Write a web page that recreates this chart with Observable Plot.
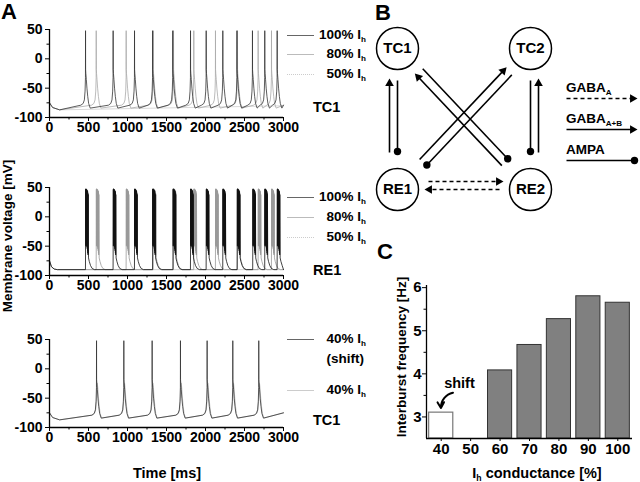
<!DOCTYPE html>
<html><head><meta charset="utf-8">
<script src="https://cdn.jsdelivr.net/npm/d3@7"></script>
<script src="https://cdn.jsdelivr.net/npm/@observablehq/plot@0.6"></script>
<style>
body{margin:0;background:#fff;}
#fig{position:relative;width:640px;height:482px;overflow:hidden;font-family:"Liberation Sans",Arial,Helvetica,sans-serif;font-weight:bold;color:#000;background:#fff;}
.abs{position:absolute;}
.lbl{position:absolute;white-space:nowrap;line-height:1;}
.lbl sub{font-size:0.6em;vertical-align:-0.35em;line-height:0;}
.sw{position:absolute;height:0;width:27px;}
</style></head><body><div id="fig"></div>
<script>
// ---------------- DATA ----------------
// Panel A: time axis / voltage axis
const timeTicks = [0, 500, 1000, 1500, 2000, 2500, 3000];
const timeMinor = [250, 750, 1250, 1750, 2250, 2750];
const voltTicks = [-100, -50, 0, 50];
const voltMinor = [-75, -25, 25];

// spike / burst times (ms)
const tc100Spikes = [462, 816, 1090, 1322, 1580, 1808, 2009, 2222, 2403, 2602, 2760, 2919];
const tc80Spikes  = [599, 983, 1330, 1590, 1850, 2128, 2410, 2675, 2846];
const tc50Spikes  = [];
const re100Bursts = [462, 816, 1090, 1322, 1583, 1808, 2009, 2222, 2406, 2606, 2760, 2919];
const re80Bursts  = [599, 983, 1330, 1590, 1850, 2128, 2410, 2675, 2846];
const re50Bursts  = [];
const tcShiftSpikes = [603, 953, 1316, 1679, 2021, 2350, 2683];
const tc40Humps     = [607, 957, 1320, 1683, 2025, 2354, 2687];

// waveform shapes (ms offset, mV)
const tcSpikeDt = [-60, -30, -15, -6, -1, 0, 1, 4, 10, 18, 28, 40, 60];
const tcSpikeV  = [-79, -76, -70, -55, -32, 48, -18, -25, -35, -50, -64, -76, -84];
const tcHumpDt  = [-60, -30, -15, -6, 0, 5, 12, 20, 30, 42, 60];
const tcHumpV   = [-79, -76, -70, -56, -35, -24, -32, -48, -63, -76, -84];
const reBurstDt = [-1, 0, 1.6, 3.2, 4.8, 6.4, 8, 9.6, 11.2, 12.8, 14.4, 16, 17.6, 19.2, 20.8, 22.4, 24, 25.6, 27.2, 28.8, 30.4, 32, 34, 38, 48, 64, 85, 115];
const reBurstV  = [-90, -60, 47, -50, 48, -48, 47, -46, 47, -48, 46, -50, 46, -52, 45, -55, 44, -58, 43, -62, 40, -65, 38, -70, -76, -83, -88, -90];
const tcStartT = [0, 40, 130];
const tcStartV = [-75, -83, -87];
const reStartT = [0, 25, 60, 100];
const reStartV = [-75, -85, -89, -90];

// legend texts
const legendTop = ["100% I<sub>h</sub>", "80% I<sub>h</sub>", "50% I<sub>h</sub>"];
const legendBottom = ["40% I<sub>h</sub>", "(shift)", "40% I<sub>h</sub>"];
const cellNames = ["TC1", "RE1", "TC1"];

// Panel B network
const nodeName = ["TC1", "TC2", "RE1", "RE2"];
const nodeX = [57, 190, 57, 190];
const nodeY = [48, 48, 189, 189];
const edgeFrom = ["RE1", "TC1", "RE2", "TC2", "RE1", "TC2", "RE2", "TC1", "RE1", "RE2"];
const edgeTo   = ["TC1", "RE1", "TC2", "RE2", "TC2", "RE1", "TC1", "RE2", "RE2", "RE1"];
const edgeType = ["GABA_A+B", "AMPA", "GABA_A+B", "AMPA", "GABA_A+B", "AMPA", "GABA_A+B", "AMPA", "GABA_A", "GABA_A"];
const edgeSide = [8, 0, -8, 0, 4.5, 4.5, 4.5, 4.5, 8, 0];
const synTypes = ["GABA_A", "GABA_A+B", "AMPA"];
const synLabels = ["GABA<sub>A</sub>", "GABA<sub>A+B</sub>", "AMPA"];

// Panel C bars
const conductance = [40, 50, 60, 70, 80, 90, 100];
const interburstHz = [3.1, null, 4.08, 4.67, 5.27, 5.8, 5.65];
const isShift = [true, false, false, false, false, false, false];
const freqTicks = [3, 4, 5, 6];

// ---------------- RENDER ----------------
const FONT = '"Liberation Sans", Arial, Helvetica, sans-serif';
const fig = document.getElementById("fig");
function place(node, left, top) {
  const d = document.createElement("div");
  d.className = "abs"; d.style.left = left + "px"; d.style.top = top + "px";
  d.appendChild(node); fig.appendChild(d);
}
function label(html, x, y, fs, align = "left", rot = false) {
  const d = document.createElement("div");
  d.className = "lbl"; d.innerHTML = html; d.style.fontSize = fs + "px";
  d.style.left = x + "px";
  if (rot) { d.style.top = y + "px"; d.style.transform = "translate(-50%,-50%) rotate(-90deg)"; }
  else {
    d.style.top = (y - fs / 2) + "px";
    d.style.transform = `translate(${align === "center" ? "-50%" : align === "right" ? "-100%" : "0"},0)`;
  }
  fig.appendChild(d);
}
function swatch(x, y, color, style = "solid") {
  const d = document.createElement("div");
  d.className = "sw"; d.style.left = x + "px"; d.style.top = y + "px";
  d.style.borderTop = `1px ${style} ${color}`; fig.appendChild(d);
}
function buildTrace(times, dt, v, startT, startV, endV) {
  const pts = startT.map((t, i) => ({t, v: startV[i]}));
  for (const s of times) dt.forEach((d, i) => pts.push({t: s + d, v: v[i]}));
  const kept = pts.filter(p => p.t < 3000).sort((a, b) => a.t - b.t);
  kept.push({t: 3000, v: endV});
  return kept;
}
const baseStyle = {fontFamily: FONT, fontWeight: "bold", color: "#000", background: "none", overflow: "visible"};
const axFont = {fontSize: 14, fontWeight: "bold"};

function tracePlot(series) {
  return Plot.plot({
    width: 290, height: 140, marginLeft: 49, marginRight: 7, marginTop: 29, marginBottom: 23,
    x: {domain: [0, 3000], label: null}, y: {domain: [-100, 50], label: null},
    style: {...baseStyle, fontSize: "14px"},
    marks: [
      ...series.map(s => Plot.line(s.pts, {x: "t", y: "v", stroke: s.color, strokeWidth: 0.8})),
      Plot.ruleX([0], {stroke: "#000", strokeWidth: 1.3}),
      Plot.ruleY([-100], {stroke: "#000", strokeWidth: 1.3}),
      Plot.axisY({ticks: voltTicks, tickSize: 4, tickPadding: 3, tickFormat: d => String(d), label: null, ...axFont}),
      Plot.axisY({ticks: voltMinor, tickSize: 2.5, tickFormat: () => "", label: null}),
      Plot.axisX({ticks: timeTicks, tickSize: 4, tickPadding: 1, tickFormat: d => String(d), label: null, ...axFont}),
      Plot.axisX({ticks: timeMinor, tickSize: 2.5, tickFormat: () => "", label: null})
    ]
  });
}

// panel A traces
place(tracePlot([
  {pts: buildTrace(tc50Spikes, tcSpikeDt, tcSpikeV, tcStartT, tcStartV, -80), color: "#cfcfcf"},
  {pts: buildTrace(tc80Spikes, tcSpikeDt, tcSpikeV, tcStartT, tcStartV, -79), color: "#aaaaaa"},
  {pts: buildTrace(tc100Spikes, tcSpikeDt, tcSpikeV, tcStartT, tcStartV, -79), color: "#333333"}
]), 0, 0);
place(tracePlot([
  {pts: buildTrace(re50Bursts, reBurstDt, reBurstV, reStartT, reStartV, -90), color: "#c8c8c8"},
  {pts: buildTrace(re80Bursts, reBurstDt, reBurstV, reStartT, reStartV, -90), color: "#999999"},
  {pts: buildTrace(re100Bursts, reBurstDt, reBurstV, reStartT, reStartV, -90), color: "#111111"}
]), 0, 158);
place(tracePlot([
  {pts: buildTrace(tc40Humps, tcHumpDt, tcHumpV, tcStartT, tcStartV, -75), color: "#b5b5b5"},
  {pts: buildTrace(tcShiftSpikes, tcSpikeDt, tcSpikeV, tcStartT, tcStartV, -75), color: "#333333"}
]), 0, 310);

// panel A legends
const swColors = ["#666", "#bbb", "#ccc"], swStyles = ["solid", "solid", "dotted"];
[35, 54, 74].forEach((y, i) => { swatch(287, y, swColors[i], swStyles[i]); label(legendTop[i], 366, y, 13.5, "right"); });
[197, 217, 237].forEach((y, i) => { swatch(287, y, swColors[i], swStyles[i]); label(legendTop[i], 366, y, 13.5, "right"); });
swatch(287, 339, "#666"); label(legendBottom[0], 366, 339, 13.5, "right");
label(legendBottom[1], 364, 359, 13.5, "right");
swatch(287, 390, "#ccc"); label(legendBottom[2], 366, 390, 13.5, "right");
[107, 270, 420].forEach((y, i) => label(cellNames[i], 313, y, 14.5));
label("Membrane voltage [mV]", 8, 236, 13.5, "center", true);
label("Time [ms]", 167, 473, 14.5, "center");
label("A", 1, 12, 22);
label("B", 375, 13, 22);
label("C", 377, 252, 22);

// panel B diagram
const nodes = nodeName.map((name, i) => ({name, x: nodeX[i], y: nodeY[i]}));
const nodeOf = n => nodes[nodeName.indexOf(n)];
const gaps = {"GABA_A": [31, 27], "GABA_A+B": [37, 30], "AMPA": [32, 38]};
const headR = 3.2, headOff = 2 * 0.7776 * headR;
const segs = [], heads = [], ends = [];
edgeFrom.forEach((f, i) => {
  const s = nodeOf(f), t = nodeOf(edgeTo[i]), type = edgeType[i];
  const dx = t.x - s.x, dy = t.y - s.y, L = Math.hypot(dx, dy);
  const ux = dx / L, uy = dy / L, px = uy, py = -ux, o = edgeSide[i];
  const [a, b] = gaps[type];
  const x1 = s.x + ux * a + px * o, y1 = s.y + uy * a + py * o;
  const x2 = t.x - ux * b + px * o, y2 = t.y - uy * b + py * o;
  if (type === "AMPA") { segs.push({x1, y1, x2, y2, type}); ends.push({x: x2, y: y2}); }
  else {
    segs.push({x1, y1, x2: x2 - ux * headOff, y2: y2 - uy * headOff, type});
    heads.push({x: x2 - ux * headOff, y: y2 - uy * headOff, angle: Math.atan2(ux, -uy) * 180 / Math.PI});
  }
});
synTypes.forEach((type, i) => {
  const y = 98 + i * 31;
  if (type === "AMPA") { segs.push({x1: 226, y1: y, x2: 294, y2: y, type}); ends.push({x: 294, y}); }
  else { segs.push({x1: 226, y1: y, x2: 297 - headOff, y2: y, type}); heads.push({x: 297 - headOff, y, angle: 90}); }
  label(synLabels[i], 566, y - 10, 13.5);
});
place(Plot.plot({
  width: 300, height: 215, margin: 0,
  x: {domain: [0, 300], range: [0, 300], axis: null}, y: {domain: [0, 215], range: [0, 215], axis: null},
  style: {...baseStyle, fontSize: "15px"},
  marks: [
    Plot.link(segs.filter(d => d.type !== "GABA_A"), {x1: "x1", y1: "y1", x2: "x2", y2: "y2", stroke: "#000", strokeWidth: 1.6}),
    Plot.link(segs.filter(d => d.type === "GABA_A"), {x1: "x1", y1: "y1", x2: "x2", y2: "y2", stroke: "#000", strokeWidth: 1.6, strokeDasharray: "4,3"}),
    Plot.dot(heads, {x: "x", y: "y", symbol: "triangle", r: headR, rotate: "angle", fill: "#000", stroke: "none"}),
    Plot.dot(ends, {x: "x", y: "y", r: 3.7, fill: "#000", stroke: "none"}),
    Plot.dot(nodes, {x: "x", y: "y", r: 21, fill: "#fff", stroke: "#000", strokeWidth: 1.5}),
    Plot.text(nodes, {x: "x", y: "y", text: "name", fontSize: 15, fontWeight: "bold"})
  ]
}), 340, 0);

// panel C bars
const bars = conductance.map((c, i) => ({c, f: interburstHz[i], shift: isShift[i]})).filter(d => d.f != null);
const half = 4.1;
const cFont = {fontSize: 15, fontWeight: "bold"};
place(Plot.plot({
  width: 300, height: 242, marginLeft: 86, marginRight: 8, marginTop: 45, marginBottom: 44,
  x: {domain: [35, 105], label: null}, y: {domain: [2.5, 6.05], label: null},
  style: {...baseStyle, fontSize: "15px"},
  marks: [
    Plot.rect(bars.filter(d => !d.shift), {x1: d => d.c - half, x2: d => d.c + half, y1: 2.5, y2: "f", fill: "#808080", stroke: "#333", strokeWidth: 1}),
    Plot.rect(bars.filter(d => d.shift), {x1: d => d.c - half, x2: d => d.c + half, y1: 2.5, y2: "f", fill: "#fff", stroke: "#777", strokeWidth: 1.2}),
    Plot.ruleX([35], {stroke: "#000", strokeWidth: 1.3}),
    Plot.ruleY([2.5], {stroke: "#000", strokeWidth: 1.3}),
    Plot.axisY({ticks: freqTicks, tickSize: 4, tickPadding: 1, tickFormat: d => String(d), label: null, ...cFont}),
    Plot.axisY({ticks: [3.5, 4.5, 5.5], tickSize: 2.5, tickFormat: () => "", label: null}),
    Plot.axisX({ticks: conductance, tickSize: 3, tickPadding: 2, tickFormat: d => String(d), label: null, ...cFont}),
    Plot.text(["shift"], {x: 46.2, y: 3.79, text: d => d, fontSize: 14.5, fontWeight: "bold"}),
    Plot.arrow([0], {x1: 44, y1: 3.56, x2: 39.9, y2: 3.21, bend: -40, headLength: 7, strokeWidth: 2, stroke: "#000"})
  ]
}), 340, 240);
label("Interburst frequency [Hz]", 402, 357, 13.5, "center", true);
label("I<sub>h</sub> conductance [%]", 537, 473, 14.5, "center");
</script></body></html>
